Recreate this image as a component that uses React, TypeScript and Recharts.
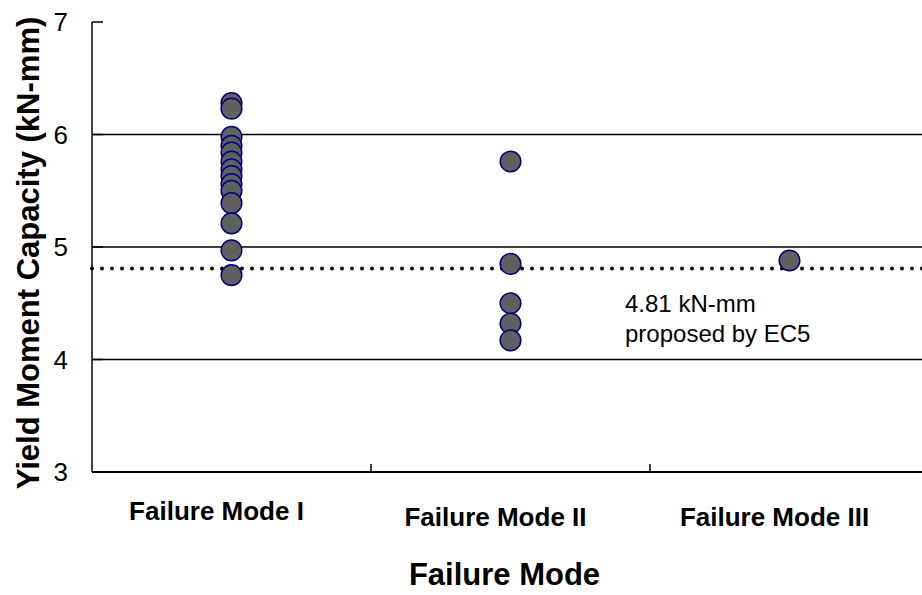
import React from "react";
import { ScatterChart, Scatter, XAxis, YAxis, ReferenceLine } from "recharts";

const categories = ["Failure Mode I", "Failure Mode II", "Failure Mode III"];
const modeI = [6.28, 6.23, 5.98, 5.9, 5.84, 5.76, 5.69, 5.63, 5.56, 5.5, 5.39, 5.21, 4.97, 4.75];
const modeII = [5.76, 4.85, 4.5, 4.32, 4.17];
const modeIII = [4.88];
const yTicks = [3, 4, 5, 6, 7];
const gridValues = [4, 5, 6];
const ec5Value = 4.81;
const boundaryTicks = [1, 2];
const centerTicks = [0.5, 1.5, 2.5];

const points = [modeI, modeII, modeIII].flatMap((vals, i) => vals.map(v => ({ x: i + 0.5, y: v })));

const FONT = "'Liberation Sans', Arial, sans-serif";

const XTick = (props: any) => {
  const { x, y, payload } = props;
  const v = payload.value as number;
  if (Number.isInteger(v)) {
    // tick mark pointing inside the plot
    return <line x1={x} x2={x} y1={y - 8} y2={y - 16} stroke="#000" strokeWidth={1.5} />;
  }
  const idx = Math.floor(v);
  const dy = idx === 0 ? 40 : 46;
  return (
    <text x={x - 15} y={y + dy} textAnchor="middle" fontFamily={FONT} fontWeight="bold" fontSize={26} fill="#000">
      {categories[idx]}
    </text>
  );
};

const YTick = (props: any) => {
  const { x, y, payload } = props;
  return (
    <g>
      <line x1={x + 8} x2={x + 19} y1={y} y2={y} stroke="#000" strokeWidth={1.5} />
      <text x={x - 16} y={y} dy={9} textAnchor="end" fontFamily={FONT} fontSize={26} fill="#000">
        {payload.value}
      </text>
    </g>
  );
};

const Dot = (props: any) => (
  <circle cx={props.cx} cy={props.cy} r={10.3} fill="#606060" stroke="#000080" strokeWidth={1.5} />
);

export default function App() {
  return (
    <div style={{ position: "fixed", left: 0, top: 0, width: 922, height: 595, overflow: "hidden", background: "#fff" }}>
      <ScatterChart width={940} height={595} margin={{ top: 22, right: 11, bottom: 0, left: 0 }}>
        <XAxis
          type="number" dataKey="x" domain={[0, 3]} ticks={[...centerTicks, ...boundaryTicks]}
          interval={0} allowDataOverflow height={123} tickLine={false} tick={<XTick />}
          axisLine={{ stroke: "#000", strokeWidth: 2 }}
          label={{ value: "Failure Mode", position: "insideBottom", offset: 10, dx: -6, fontFamily: FONT, fontWeight: "bold", fontSize: 31, fill: "#000" }}
        />
        <YAxis
          type="number" dataKey="y" domain={[3, 7]} ticks={yTicks} interval={0} width={92}
          tickLine={false} tick={<YTick />} axisLine={{ stroke: "#000", strokeWidth: 1.5 }}
          label={(p: any) => {
            const vb = p.viewBox;
            const cx = 28, cy = vb.y + vb.height / 2 + 6;
            return (
              <text x={cx} y={cy} transform={`rotate(-90, ${cx}, ${cy})`} textAnchor="middle" dominantBaseline="central"
                fontFamily={FONT} fontWeight="bold" fontSize={31} fill="#000">
                Yield Moment Capacity (kN-mm)
              </text>
            );
          }}
        />
        {gridValues.map(g => (
          <ReferenceLine key={g} y={g} stroke="#000" strokeWidth={1.5} />
        ))}
        <ReferenceLine y={ec5Value} stroke="#000" strokeWidth={4} strokeDasharray="0 10" strokeLinecap="round" />
        <Scatter data={points} shape={<Dot />} isAnimationActive={false} />
      </ScatterChart>
      <div style={{ position: "absolute", left: 625, top: 289, fontFamily: FONT, fontSize: 24, lineHeight: "30px", color: "#000" }}>
        4.81 kN-mm<br />proposed by EC5
      </div>
    </div>
  );
}
